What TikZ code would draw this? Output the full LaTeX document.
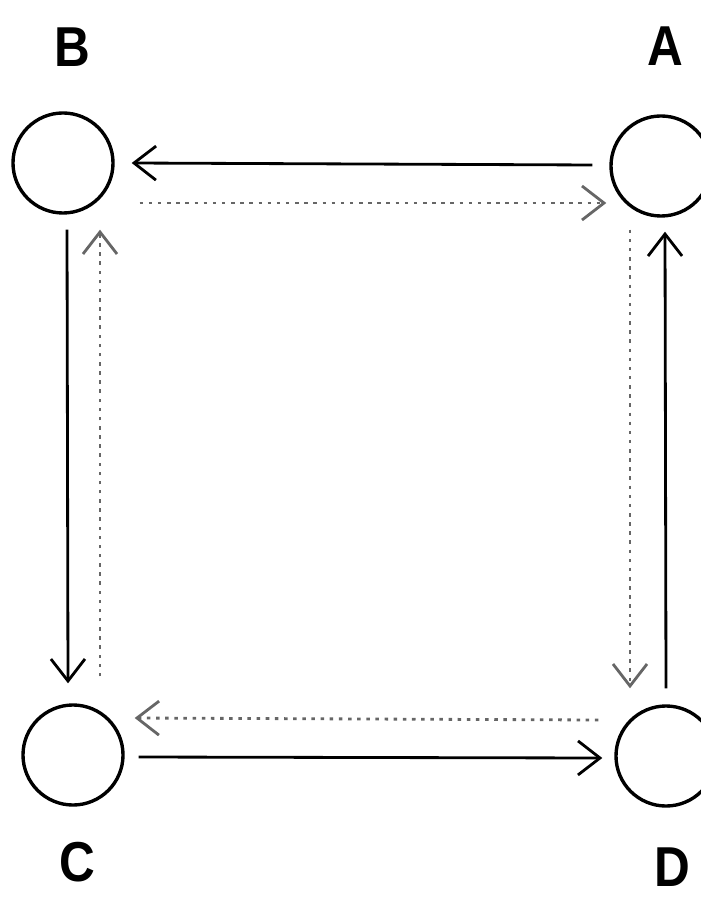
\documentclass[tikz,border=0pt]{standalone}
\usepackage{fontspec}
\setsansfont{Liberation Sans}
\usetikzlibrary{positioning,calc,arrows.meta}
\tikzset{
	stn/.style={circle,draw,line width=2.4pt,minimum size=2.5cm,inner sep=0pt},
	lbl/.style={font=\sffamily\bfseries\fontsize{40}{44}\selectfont,inner sep=0pt,xscale=0.88},
	solidarr/.style={line width=2pt,-{Straight Barb[length=0.55cm,width=0.85cm,line width=2pt]}},
	dotarr/.style={line width=2pt,black!60,dash pattern=on 2.5pt off 4pt,-{Straight Barb[length=0.55cm,width=0.85cm,line width=2pt]}}
}
\begin{document}
\begin{tikzpicture}[x=0.025cm,y=-0.025cm]
	\useasboundingbox (0,0) rectangle (701,898);
	\node[stn] (B) at (63,163) {};
	\node[stn] (A) at (661,166) {};
	\node[stn] (C) at (73,755) {};
	\node[stn] (D) at (666,756) {};
	\node[lbl] (lb) at (72,47) {B};
	\node[lbl] (la) at (665,46) {A};
	\node[lbl] (lc) at (77,862) {C};
	\node[lbl] (ld) at (672,867) {D};
	% solid round A-B-C-D-A
	\draw[solidarr] ($(A.west)+(-17,-1)$) -- ($(B.east)+(17,0)$);
	\draw[solidarr] ($(B.south)+(4,15)$) -- ($(C.north)+(-5,-20)$);
	\draw[solidarr] ($(C.east)+(14,2)$) -- ($(D.west)+(-12,2)$);
	\draw[solidarr] ($(D.north)+(0,-16)$) -- ($(A.south)+(4,14)$);
	% dotted round the other way
	\draw[dotarr] ($(B.east)+(25,40)$) -- ($(A.west)+(-3,37)$);
	\draw[dotarr] ($(A.south)+(-31,12)$) -- ($(D.north)+(-36,-16)$);
	\draw[dotarr] ($(D.west)+(-16,-36)$) -- ($(C.east)+(10,-37)$);
	\draw[dotarr] ($(C.north)+(27,-27)$) -- ($(B.south)+(37,15)$);
\end{tikzpicture}
\end{document}
